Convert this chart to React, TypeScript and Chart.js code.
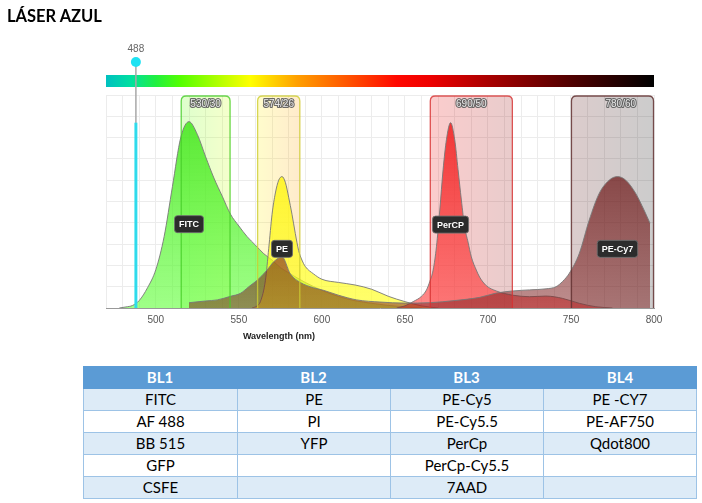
import React, { useEffect, useRef } from 'react';
import { Chart, registerables } from 'chart.js';

Chart.register(...registerables);

// ---------- data ----------
const X_MIN = 470;
const X_MAX = 800;

const fluorNames = ['FITC', 'PE', 'PerCP', 'PE-Cy7'];

const fitcWl = [478, 482, 486, 490, 495, 500, 505, 510, 515, 520, 525, 530, 535, 540, 545, 550, 555, 560, 565, 570, 575, 580, 590, 600, 610, 620, 630, 640, 650, 660];
const fitcVal = [0, 0.5, 1.2, 3.5, 9.5, 18, 33.5, 57, 80, 87.5, 81.5, 71, 61, 52.5, 44, 38.5, 33.5, 29.5, 25.5, 22.5, 19, 16.5, 12, 8.3, 5.4, 3.4, 2.2, 1.2, 0.5, 0];

const peWl = [558, 561, 563, 566, 568, 570, 572, 574, 576, 578, 580, 582, 584, 586, 588, 590, 595, 600, 610, 620, 630, 640, 650, 660, 670];
const peVal = [0, 1, 3, 13, 28, 44, 54, 60, 61.7, 59, 52, 44, 35, 27, 22.5, 19.5, 16, 13.5, 12, 10.8, 8.8, 5.5, 3, 1, 0];

const percpWl = [645, 650, 655, 660, 663, 665, 667, 669, 671, 673, 675, 677.5, 680, 682, 684, 686, 688, 690, 693, 695, 699, 705, 710, 715, 725, 735, 745, 755, 765, 775];
const percpVal = [0, 1, 3, 5.5, 8.5, 12.5, 17.8, 28.8, 46, 65, 79, 87, 79, 65, 50.7, 38, 31, 24, 17.8, 14.5, 10.5, 8, 6.8, 6, 5.3, 5.6, 4.5, 2.2, 0.6, 0];

const pecy7Wl = [520, 530, 537, 545, 551, 556, 561, 567, 571, 576, 581, 587, 595, 601, 610, 621, 635, 650, 665, 680, 695, 705, 715, 725, 735, 741, 745, 749, 755, 761, 767, 773, 778, 783, 789, 794, 797.6];
const pecy7Val = [2.5, 3.3, 3.8, 5.5, 6.9, 10, 13, 17.8, 21.7, 24, 16, 12, 9.5, 8.3, 6, 3.8, 2.8, 2.3, 2.5, 3.5, 5, 7, 8, 8.5, 9, 10, 12.5, 16.3, 25.6, 41.3, 53.8, 60, 61.7, 60, 53.8, 46, 39.8];

const bandNames = ['530/30', '574/26', '690/50', '780/60'];
const bandCenters = [530, 574, 690, 780];
const bandWidths = [30, 26, 50, 60];
const bandBorderColors = ['rgba(70,205,40,0.8)', 'rgba(205,205,50,0.8)', 'rgba(215,50,50,0.8)', 'rgba(100,50,50,0.85)'];

const laserWl = 488;
const laserLevel = 87;

const specWl = [470, 485, 500, 515, 540, 557, 585, 615, 645, 665, 700, 750, 800];
const specHex = ['#00c0c0', '#00e0a0', '#20f040', '#55ff00', '#bbff00', '#ffff00', '#ffa000', '#ff5500', '#ff0800', '#ee0000', '#aa0000', '#500000', '#000000'];

const tableHeaders = ['BL1', 'BL2', 'BL3', 'BL4'];
const tableRows = [
  ['FITC', 'PE', 'PE-Cy5', 'PE -CY7'],
  ['AF 488', 'PI', 'PE-Cy5.5', 'PE-AF750'],
  ['BB 515', 'YFP', 'PerCp', 'Qdot800'],
  ['GFP', '', 'PerCp-Cy5.5', ''],
  ['CSFE', '', '7AAD', ''],
];

// ---------- helpers ----------
function hexRgb(h: string) {
  return [parseInt(h.slice(1, 3), 16), parseInt(h.slice(3, 5), 16), parseInt(h.slice(5, 7), 16)];
}
function specColor(wl: number, a: number) {
  let i = 0;
  while (i < specWl.length - 2 && wl > specWl[i + 1]) i++;
  const t = Math.max(0, Math.min(1, (wl - specWl[i]) / (specWl[i + 1] - specWl[i])));
  const c1 = hexRgb(specHex[i]);
  const c2 = hexRgb(specHex[i + 1]);
  const c = c1.map((v, k) => Math.round(v + (c2[k] - v) * t));
  return `rgba(${c[0]},${c[1]},${c[2]},${a})`;
}

function gradFill(top: string, bot: string) {
  return (ctx: any) => {
    const chart = ctx.chart;
    const ca = chart.chartArea;
    if (!ca) return bot;
    const g = chart.ctx.createLinearGradient(0, ca.top, 0, ca.bottom);
    g.addColorStop(0, top);
    g.addColorStop(1, bot);
    return g;
  };
}

function mkSet(label: string, wl: number[], val: number[], top: string, bot: string, order: number) {
  return {
    label,
    data: wl.map((w, i) => ({ x: w, y: val[i] })),
    fill: 'origin',
    backgroundColor: gradFill(top, bot),
    borderColor: 'rgba(120,120,120,0.9)',
    borderWidth: 1,
    pointRadius: 0,
    cubicInterpolationMode: 'monotone',
    order,
  };
}

function roundTop(ctx: CanvasRenderingContext2D, x1: number, y1: number, x2: number, y2: number, r: number) {
  ctx.beginPath();
  ctx.moveTo(x1, y2);
  ctx.lineTo(x1, y1 + r);
  ctx.quadraticCurveTo(x1, y1, x1 + r, y1);
  ctx.lineTo(x2 - r, y1);
  ctx.quadraticCurveTo(x2, y1, x2, y1 + r);
  ctx.lineTo(x2, y2);
}

const spectraPlugin = {
  id: 'spectra',
  beforeDatasetsDraw(chart: any) {
    const { ctx, scales } = chart;
    const x = scales.x, y = scales.y;
    const yTop = y.getPixelForValue(100) + 1;
    const yBot = y.getPixelForValue(0);
    bandCenters.forEach((c, i) => {
      const lo = c - bandWidths[i] / 2;
      const hi = Math.min(c + bandWidths[i] / 2, X_MAX);
      const x1 = x.getPixelForValue(lo);
      const x2 = x.getPixelForValue(hi);
      const g = ctx.createLinearGradient(x1, 0, x2, 0);
      g.addColorStop(0, specColor(lo, 0.2));
      g.addColorStop(0.5, specColor((lo + hi) / 2, 0.2));
      g.addColorStop(1, specColor(hi, 0.2));
      ctx.save();
      roundTop(ctx, x1, yTop, x2, yBot, 5);
      ctx.closePath();
      ctx.fillStyle = g;
      ctx.fill();
      ctx.restore();
    });
  },
  afterDraw(chart: any) {
    const { ctx, scales, chartArea: ca } = chart;
    const x = scales.x, y = scales.y;
    const yTop = y.getPixelForValue(100) + 1;
    const yBot = y.getPixelForValue(0);
    ctx.save();
    // band borders + labels
    bandCenters.forEach((c, i) => {
      const lo = c - bandWidths[i] / 2;
      const hi = Math.min(c + bandWidths[i] / 2, X_MAX);
      const x1 = x.getPixelForValue(lo) + 0.5;
      const x2 = x.getPixelForValue(hi) - 0.5;
      roundTop(ctx, x1, yTop, x2, yBot, 5);
      ctx.strokeStyle = bandBorderColors[i];
      ctx.lineWidth = 1.3;
      ctx.stroke();
      ctx.font = '10px "Liberation Sans", Arial, sans-serif';
      ctx.textAlign = 'center';
      ctx.textBaseline = 'middle';
      ctx.lineWidth = 2.2;
      ctx.strokeStyle = 'rgba(90,90,90,0.9)';
      ctx.lineJoin = 'round';
      const tx = x.getPixelForValue(c);
      ctx.strokeText(bandNames[i], tx, yTop + 8.5);
      ctx.fillStyle = '#e8e8e8';
      ctx.fillText(bandNames[i], tx, yTop + 8.5);
    });

    // fluor labels at each curve's peak
    const sets = [[fitcWl, fitcVal], [peWl, peVal], [percpWl, percpVal], [pecy7Wl, pecy7Val]];
    sets.forEach(([wl, val], i) => {
      let mi = 0;
      val.forEach((v, k) => { if (v > val[mi]) mi = k; });
      const px = x.getPixelForValue(wl[mi]);
      const py = y.getPixelForValue(val[mi] * 0.45);
      ctx.font = 'bold 9px "Liberation Sans", Arial, sans-serif';
      const w = ctx.measureText(fluorNames[i]).width + 9;
      const h = 17;
      ctx.beginPath();
      ctx.roundRect(px - w / 2, py - h / 2, w, h, 3);
      ctx.fillStyle = '#2c2c2c';
      ctx.fill();
      ctx.strokeStyle = 'rgba(110,110,110,0.9)';
      ctx.lineWidth = 1;
      ctx.stroke();
      ctx.fillStyle = '#ffffff';
      ctx.textAlign = 'center';
      ctx.textBaseline = 'middle';
      ctx.fillText(fluorNames[i], px, py + 0.5);
    });

    // spectrum bar
    const barTop = ca.top - 20;
    const barH = 12;
    const bg = ctx.createLinearGradient(ca.left, 0, ca.right, 0);
    specWl.forEach((w, i) => bg.addColorStop((w - X_MIN) / (X_MAX - X_MIN), specHex[i]));
    ctx.fillStyle = bg;
    ctx.fillRect(ca.left, barTop, ca.right - ca.left, barH);

    // laser
    const lx = x.getPixelForValue(laserWl);
    const markY = ca.top - 33;
    ctx.strokeStyle = '#a8a8a8';
    ctx.lineWidth = 1.5;
    ctx.beginPath();
    ctx.moveTo(lx, markY);
    ctx.lineTo(lx, yBot);
    ctx.stroke();
    ctx.strokeStyle = 'rgba(40,220,238,0.95)';
    ctx.lineWidth = 3;
    ctx.beginPath();
    ctx.moveTo(lx, y.getPixelForValue(laserLevel));
    ctx.lineTo(lx, yBot);
    ctx.stroke();
    ctx.fillStyle = '#1ee2f2';
    ctx.beginPath();
    ctx.arc(lx, markY, 5, 0, Math.PI * 2);
    ctx.fill();
    ctx.fillStyle = '#666';
    ctx.font = '10px "Liberation Sans", Arial, sans-serif';
    ctx.textAlign = 'center';
    ctx.textBaseline = 'middle';
    ctx.fillText(String(laserWl), lx, markY - 13);

    // axis title
    ctx.fillStyle = '#222';
    ctx.font = 'bold 9px "Liberation Sans", Arial, sans-serif';
    ctx.fillText('Wavelength (nm)', (ca.left + ca.right) / 2 - 101, ca.bottom + 29);
    ctx.restore();
  },
};

function SpectraChart() {
  const ref = useRef<HTMLCanvasElement>(null);
  useEffect(() => {
    if (!ref.current) return;
    const chart = new Chart(ref.current, {
      type: 'line',
      data: {
        datasets: [
          mkSet('FITC', fitcWl, fitcVal, 'rgba(60,225,20,0.88)', 'rgba(95,255,55,0.6)', 4),
          mkSet('PE', peWl, peVal, 'rgba(255,238,0,0.9)', 'rgba(255,255,30,0.65)', 3),
          mkSet('PerCP', percpWl, percpVal, 'rgba(238,20,20,0.88)', 'rgba(255,60,60,0.6)', 2),
          mkSet('PE-Cy7', pecy7Wl, pecy7Val, 'rgba(95,15,15,0.85)', 'rgba(125,30,30,0.5)', 1),
        ] as any,
      },
      options: {
        responsive: false,
        animation: false,
        events: [],
        layout: { padding: { left: 106, right: 48, top: 95, bottom: 22 } },
        plugins: { legend: { display: false }, tooltip: { enabled: false }, title: { display: false } },
        scales: {
          x: {
            type: 'linear',
            min: X_MIN,
            max: X_MAX,
            afterFit: (s: any) => { s.height = 30; },
            grid: { color: '#ececec', drawTicks: false },
            border: { display: true, color: '#999', width: 1 },
            ticks: {
              stepSize: 10,
              autoSkip: false,
              maxRotation: 0,
              padding: 6,
              color: '#555',
              font: { size: 10, family: '"Liberation Sans", Arial, sans-serif' },
              callback: (v: any) => (Number(v) % 50 === 0 ? String(v) : ''),
            },
          },
          y: {
            display: true,
            min: 0,
            max: 100,
            afterFit: (s: any) => { s.width = 0; },
            grid: { color: '#ececec', drawTicks: false },
            border: { display: false },
            ticks: { display: false, stepSize: 10 },
          },
        },
      },
      plugins: [spectraPlugin],
    });
    return () => chart.destroy();
  }, []);
  return (
    <canvas
      ref={ref}
      width={702}
      height={360}
      style={{ position: 'absolute', left: 0, top: 0, width: 702, height: 360 }}
    />
  );
}

const colW = [154, 153, 153, 154];
const lineBlue = '#9dc3e6';

export default function App() {
  return (
    <div style={{ position: 'absolute', left: 0, top: 0, width: 702, height: 503, background: '#fff', fontFamily: 'Lato, "Open Sans", sans-serif', overflow: 'hidden' }}>
      <SpectraChart />
      <div style={{ position: 'absolute', left: 7, top: 8, fontWeight: 700, fontSize: 16.5, lineHeight: '16px', color: '#000' }}>
        LÁSER AZUL
      </div>
      <div style={{ position: 'absolute', left: 83, top: 366, width: 614 }}>
        <div style={{ display: 'flex', height: 23, background: '#5b9bd5' }}>
          {tableHeaders.map((h, i) => (
            <div key={i} style={{ width: colW[i], boxSizing: 'border-box', textAlign: 'center', lineHeight: '23px', color: '#fff', fontWeight: 700, fontSize: 15 }}>{h}</div>
          ))}
        </div>
        {tableRows.map((r, ri) => (
          <div key={ri} style={{ display: 'flex', height: 22, background: ri % 2 === 0 ? '#ddebf7' : '#ffffff', borderBottom: `1px solid ${lineBlue}`, boxSizing: 'border-box' }}>
            {r.map((c, ci) => (
              <div key={ci} style={{ width: colW[ci], boxSizing: 'border-box', borderLeft: `1px solid ${lineBlue}`, borderRight: ci === 3 ? `1px solid ${lineBlue}` : 'none', textAlign: 'center', lineHeight: '21px', fontSize: 15, color: '#000' }}>{c}</div>
            ))}
          </div>
        ))}
      </div>
    </div>
  );
}
